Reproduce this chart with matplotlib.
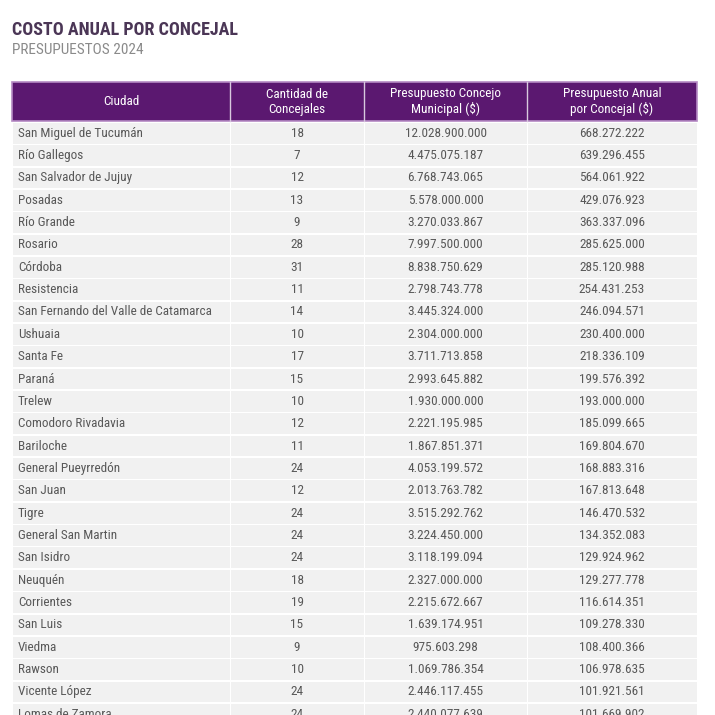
import matplotlib
matplotlib.use('Agg')
import matplotlib.pyplot as plt
from matplotlib.patches import Rectangle
from matplotlib import font_manager

# Table data
ciudades = [
    'San Miguel de Tucumán', 'Río Gallegos', 'San Salvador de Jujuy', 'Posadas',
    'Río Grande', 'Rosario', 'Córdoba', 'Resistencia',
    'San Fernando del Valle de Catamarca', 'Ushuaia', 'Santa Fe', 'Paraná',
    'Trelew', 'Comodoro Rivadavia', 'Bariloche', 'General Pueyrredón',
    'San Juan', 'Tigre', 'General San Martin', 'San Isidro', 'Neuquén',
    'Corrientes', 'San Luis', 'Viedma', 'Rawson', 'Vicente López',
    'Lomas de Zamora',
]
concejales = [18, 7, 12, 13, 9, 28, 31, 11, 14, 10, 17, 15, 10, 12, 11, 24,
              12, 24, 24, 24, 18, 19, 15, 9, 10, 24, 24]
presupuesto_concejo = [
    '12.028.900.000', '4.475.075.187', '6.768.743.065', '5.578.000.000',
    '3.270.033.867', '7.997.500.000', '8.838.750.629', '2.798.743.778',
    '3.445.324.000', '2.304.000.000', '3.711.713.858', '2.993.645.882',
    '1.930.000.000', '2.221.195.985', '1.867.851.371', '4.053.199.572',
    '2.013.763.782', '3.515.292.762', '3.224.450.000', '3.118.199.094',
    '2.327.000.000', '2.215.672.667', '1.639.174.951', '975.603.298',
    '1.069.786.354', '2.446.117.455', '2.440.077.639',
]
presupuesto_concejal = [
    '668.272.222', '639.296.455', '564.061.922', '429.076.923', '363.337.096',
    '285.625.000', '285.120.988', '254.431.253', '246.094.571', '230.400.000',
    '218.336.109', '199.576.392', '193.000.000', '185.099.665', '169.804.670',
    '168.883.316', '167.813.648', '146.470.532', '134.352.083', '129.924.962',
    '129.277.778', '116.614.351', '109.278.330', '108.400.366', '106.978.635',
    '101.921.561', '101.669.902',
]
headers = ['Ciudad', 'Cantidad de\nConcejales', 'Presupuesto Concejo\nMunicipal ($)',
           'Presupuesto Anual\npor Concejal ($)']

names = {f.name for f in font_manager.fontManager.ttflist}
font = 'Liberation Sans'
for cand in ['Roboto Condensed', 'Archivo Narrow', 'Barlow Semi Condensed']:
    if cand in names:
        font = cand
        break
plt.rcParams['font.family'] = [font, 'DejaVu Sans']

W = H = 715
fig = plt.figure(figsize=(7.15, 7.15), dpi=100)
ax = fig.add_axes([0, 0, 1, 1])
ax.set_xlim(0, W)
ax.set_ylim(H, 0)
ax.axis('off')

purple = '#5b1870'
text_grey = '#585858'
col_edges = [12, 230, 364, 527, 697]
header_top, header_bot = 82, 121
row_h = 22.35

# title
ax.text(12, 30, 'COSTO ANUAL POR CONCEJAL', fontsize=13, fontweight='bold',
        color='#4b3656', va='center', ha='left')
ax.text(12, 50, 'PRESUPUESTOS 2024', fontsize=11, color='#8a8a8a',
        va='center', ha='left')

# header
ax.add_patch(Rectangle((col_edges[0], header_top), col_edges[-1] - col_edges[0],
                       header_bot - header_top, facecolor=purple,
                       edgecolor='#b58ac4', linewidth=1.2))
for i, h in enumerate(headers):
    cx = (col_edges[i] + col_edges[i + 1]) / 2
    ax.text(cx, (header_top + header_bot) / 2, h, color='white', fontsize=9.5,
            ha='center', va='center', linespacing=1.2)
    if i > 0:
        ax.plot([col_edges[i], col_edges[i]], [header_top, header_bot],
                color='#d8c8de', linewidth=1)

# body rows
for r, (c, n, p1, p2) in enumerate(zip(ciudades, concejales,
                                       presupuesto_concejo, presupuesto_concejal)):
    y0 = header_bot + 1 + r * row_h
    yc = y0 + row_h / 2
    for i in range(4):
        ax.add_patch(Rectangle((col_edges[i] + 0.5, y0 + 0.8),
                               col_edges[i + 1] - col_edges[i] - 1, row_h - 1.6,
                               facecolor='#f1f1f1', edgecolor='none'))
    ax.text(col_edges[0] + 6, yc, c, color=text_grey, fontsize=9.5, ha='left', va='center')
    vals = [str(n), p1, p2]
    for i, v in enumerate(vals, start=1):
        cx = (col_edges[i] + col_edges[i + 1]) / 2
        ax.text(cx, yc, v, color=text_grey, fontsize=9.5, ha='center', va='center')

fig.savefig('out.png', dpi=100, facecolor='white')
